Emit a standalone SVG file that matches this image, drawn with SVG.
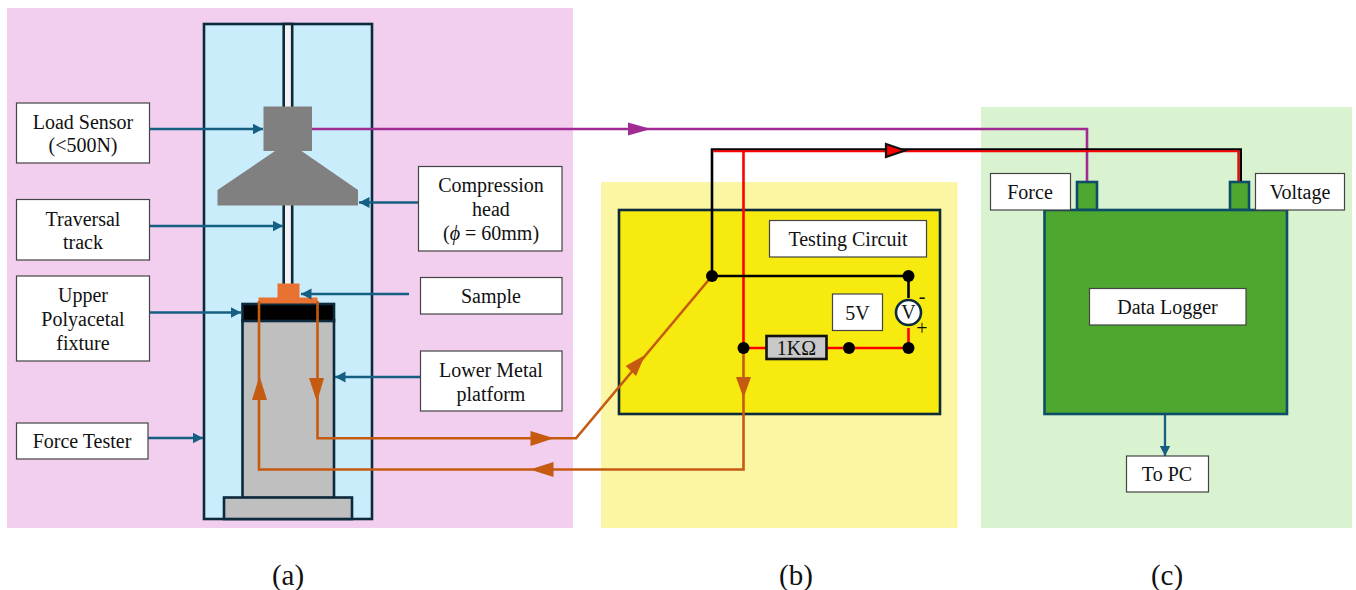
<svg xmlns="http://www.w3.org/2000/svg" width="1356" height="590" viewBox="0 0 1356 590">
<style>
text{font-family:"Liberation Serif","Times New Roman",serif;font-size:20px;fill:#111;text-anchor:middle}
.cap{font-size:29px}
.box{fill:#fff;stroke:#444;stroke-width:1.2}
.dk{stroke:#0c2a3c;stroke-width:2.6}
.lead{fill:none;stroke:#156082;stroke-width:2.3;marker-end:url(#ab)}
.or{fill:none;stroke:#c55a11;stroke-width:2.6}
.blk{fill:none;stroke:#000;stroke-width:2.6}
.red{fill:none;stroke:#f00;stroke-width:2.6}
.pur{fill:none;stroke:#a02b93;stroke-width:2.6}
.tri{fill:#c55a11}
.dot{fill:#000}
</style>
<defs>
<marker id="ab" markerUnits="userSpaceOnUse" markerWidth="12" markerHeight="12" refX="10.500" refY="5.500" orient="auto"><path d="M0,0L10.500,5.500L0,11Z" fill="#156082"/></marker>
</defs>
<g id="panels">
<rect x="7" y="8" width="566" height="520" fill="#f2ceef"/>
<rect x="601" y="182" width="356.500" height="346" fill="#fbf6a4"/>
<rect x="981" y="107" width="371" height="421" fill="#d9f2d0"/>
</g>
<g id="force-tester-frame"><rect x="204" y="24" width="168" height="495" fill="#caedfb" class="dk"/></g>
<g id="traversal-track"><rect x="283.700" y="24" width="8.500" height="262" fill="#f2f2f2" stroke="#0c2a3c" stroke-width="2.600"/></g>
<g id="lower-platform">
<rect x="242.500" y="320" width="91.500" height="178" fill="#bfbfbf" class="dk"/>
<rect x="224" y="497.500" width="128" height="21.500" fill="#bfbfbf" class="dk"/>
</g>
<g id="upper-fixture"><rect x="242.500" y="304" width="91.500" height="17" fill="#000" class="dk"/></g>
<g id="sample"><path d="M277.500,283.500H299.500V297.500H317.500V303.500H258.500V297.500H277.500Z" fill="#e97132"/></g>
<g id="load-sensor"><rect x="263.500" y="106.500" width="48.500" height="44.500" fill="#808080"/></g>
<g id="compression-head"><path d="M275,151H301.500L358,190V205.500H217.500V190Z" fill="#808080"/></g>
<g id="testing-circuit"><rect x="619" y="210" width="321" height="204" fill="#f7ea0f" class="dk"/></g>
<g id="data-logger">
<rect x="1077" y="182" width="20" height="28" fill="#4ea72e" stroke="#0e4d68" stroke-width="2.600"/>
<rect x="1230" y="182" width="19" height="28" fill="#4ea72e" stroke="#0e4d68" stroke-width="2.600"/>
<rect x="1044.500" y="210" width="242.500" height="204" fill="#4ea72e" stroke="#0e4d68" stroke-width="2.600"/>
</g>
<g id="connectors">
<path class="lead" d="M149,129H263"/>
<path class="lead" d="M149,226H283"/>
<path class="lead" d="M149,312.500H241"/>
<path class="lead" d="M148,438H203"/>
<path class="lead" d="M418,202.500H359"/>
<path class="lead" d="M409,294H301"/>
<path class="lead" d="M420,377H335"/>
<path class="lead" d="M1165,415V456"/>
<path class="pur" d="M312,129H1087V181"/>
<path d="M628,122.500L651,129L628,135.500Z" fill="#a02b93"/>
<path class="or" d="M317.500,301V438.300H576L712,276"/>
<path class="or" d="M259,301V469.500H743.500V348"/>
<path class="tri" d="M309,378H324L317,402Z"/>
<path class="tri" d="M252,400H267L259.500,376Z"/>
<path class="tri" d="M530.500,431L554,438.300L530.500,446Z"/>
<path class="tri" d="M553.500,462L530,469.500L553.500,477Z"/>
<path class="tri" d="M625.700,366L645,355L636,376Z"/>
<path class="tri" d="M736,377H751L743.500,398Z"/>
<path class="red" d="M743.500,151V348H908.500V328"/>
<path class="blk" d="M712,276H908.500V298"/>
<path class="blk" d="M712,276V149.500H1240.700V181"/>
<path class="red" style="stroke-width:2" d="M713.300,151.200H1238.300V181"/>
<path d="M886,144L905,150.500L886,157Z" fill="#f00" stroke="#111" stroke-width="2.200"/>
</g>
<g id="circuit-nodes">
<circle class="dot" cx="712" cy="276" r="6"/>
<circle class="dot" cx="908.500" cy="276" r="6"/>
<circle class="dot" cx="743.500" cy="348" r="6"/>
<circle class="dot" cx="849" cy="348" r="6"/>
<circle class="dot" cx="908.500" cy="348" r="6"/>
</g>
<g id="resistor"><rect x="766.500" y="336" width="60" height="23" fill="#c8c8c8" stroke="#111" stroke-width="2.600"/><text x="796.500" y="354.500">1KΩ</text></g>
<g id="voltmeter"><circle cx="908.500" cy="312.500" r="12.500" fill="#fff" stroke="#0c2a3c" stroke-width="2.600"/><text x="908.500" y="319">V</text><text x="922" y="303">-</text><text x="922" y="335">+</text></g>
<g id="label-load-sensor"><rect class="box" x="16.500" y="103" width="133" height="60"/><text x="83" y="129">Load Sensor</text><text x="83" y="152">(&lt;500N)</text></g>
<g id="label-traversal"><rect class="box" x="16.500" y="199.500" width="133" height="60.500"/><text x="83" y="226">Traversal</text><text x="83" y="249">track</text></g>
<g id="label-upper"><rect class="box" x="16.500" y="276" width="133" height="85"/><text x="83" y="302">Upper</text><text x="83" y="326">Polyacetal</text><text x="83" y="350">fixture</text></g>
<g id="label-force-tester"><rect class="box" x="16.500" y="423" width="131.500" height="36"/><text x="82" y="448">Force Tester</text></g>
<g id="label-compression"><rect class="box" x="418.500" y="166.500" width="143.500" height="84.500"/><text x="491" y="192">Compression</text><text x="491" y="216">head</text><text x="491" y="240">(<tspan font-style="italic">ϕ</tspan> = 60mm)</text></g>
<g id="label-sample"><rect class="box" x="420.500" y="277.500" width="141.500" height="36.500"/><text x="491" y="302.500">Sample</text></g>
<g id="label-lower"><rect class="box" x="420.500" y="351" width="141.500" height="60"/><text x="491" y="376.500">Lower Metal</text><text x="491" y="400.500">platform</text></g>
<g id="label-testing"><rect class="box" x="769.500" y="220.500" width="157" height="36.500"/><text x="848" y="245.500">Testing Circuit</text></g>
<g id="label-5v"><rect class="box" x="832.500" y="294" width="50" height="36.500"/><text x="857.500" y="320">5V</text></g>
<g id="label-force"><rect class="box" x="990.500" y="173.500" width="80" height="36.500"/><text x="1030" y="198.500">Force</text></g>
<g id="label-voltage"><rect class="box" x="1255.500" y="173.500" width="89" height="36.500"/><text x="1300" y="198.500">Voltage</text></g>
<g id="label-logger"><rect class="box" x="1089.500" y="288.500" width="156.500" height="36.500"/><text x="1167.500" y="314">Data Logger</text></g>
<g id="label-pc"><rect class="box" x="1126.500" y="456" width="82" height="36"/><text x="1167" y="480.500">To PC</text></g>
<g id="captions"><text class="cap" x="288" y="585">(a)</text><text class="cap" x="796" y="585">(b)</text><text class="cap" x="1167" y="585">(c)</text></g>
</svg>
